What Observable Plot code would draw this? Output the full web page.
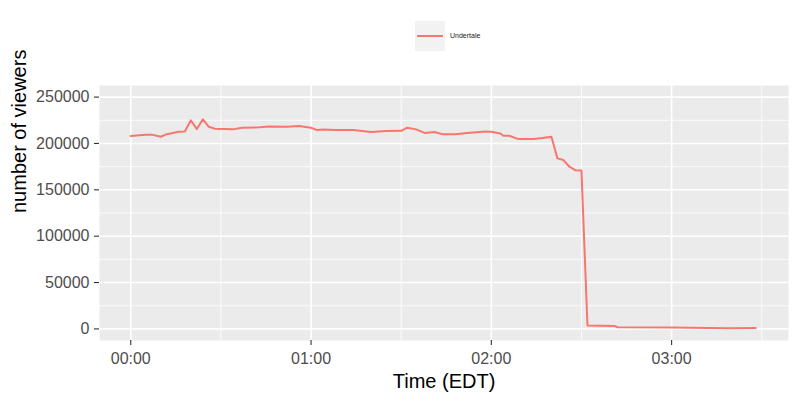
<!DOCTYPE html>
<html>
<head>
<meta charset="utf-8">
<script src="https://cdn.jsdelivr.net/npm/d3@7"></script>
<script src="https://cdn.jsdelivr.net/npm/@observablehq/plot@0.6"></script>
<style>
  html, body { margin: 0; padding: 0; background: #fff; overflow: hidden; }
  #legend { position: relative; width: 800px; height: 72px; font-family: "Liberation Sans", Arial, sans-serif; }
  #legend .key { position: absolute; left: 415px; top: 21px; width: 30px; height: 30px; background: #F2F2F2; }
  #legend .key i { position: absolute; left: 2px; top: 14px; width: 26px; height: 2px; background: #F8766D; }
  #legend .lab { position: absolute; left: 450px; top: 31px; font-size: 7px; line-height: 10px; color: #1a1a1a; }
  #chart svg { display: block; overflow: visible; }
</style>
</head>
<body>
<div id="legend"><div class="key"><i></i></div><div class="lab" id="seriesName"></div></div>
<div id="chart"></div>
<script>
// Series name
const seriesName = "Undertale";
// Minutes after 00:00 EDT
const minutes = [0,5,7,10,12,16,18,20,22,24,26,28,34,37,43,46,52,56,60,62,64,68,74,80,85,90,92,95,98,101,104,108,112,118,120,123,124,126,129,134,137,140,142,144,146,148,150,152,161,162,180,199,208];
// Number of viewers
const viewers = [208000,209500,209500,207200,210000,212600,213000,225000,215500,226000,218000,215800,215200,217000,217400,218400,218000,218700,216900,214400,215000,214400,214400,212300,213400,213600,217000,215200,211200,212300,209800,209800,211200,212900,212600,210800,208300,208300,204700,204700,205800,207200,183900,182100,174900,171000,170900,3600,3200,1800,1400,750,1000];
// Axis ticks
const xTickMinutes = [0, 60, 120, 180];
const xTickLabels = ["00:00", "01:00", "02:00", "03:00"];
const xMinorMinutes = [30, 90, 150, 210];
const yTicks = [0, 50000, 100000, 150000, 200000, 250000];
const yMinor = [25000, 75000, 125000, 175000, 225000];
const xTitle = "Time (EDT)";
const yTitle = "number of viewers";

document.getElementById("seriesName").textContent = seriesName;

const t0 = Date.UTC(2015, 9, 31, 0, 0);
const toDate = m => new Date(t0 + m * 60000);
const data = minutes.map((m, i) => ({time: toDate(m), viewers: viewers[i]}));
const labelOf = new Map(xTickMinutes.map((m, i) => [+toDate(m), xTickLabels[i]]));

const color = "#F8766D";
const chart = Plot.plot({
  width: 800,
  height: 330,
  marginTop: 13,
  marginBottom: 62,
  marginLeft: 99,
  marginRight: 12,
  style: {fontFamily: "Liberation Sans, Arial, sans-serif", fontSize: "16px", background: "#fff", overflow: "visible"},
  x: {type: "utc", domain: [toDate(-10.4), toDate(218.9)]},
  y: {domain: [-12500, 262500]},
  marks: [
    Plot.frame({fill: "#EBEBEB", stroke: null}),
    Plot.ruleY(yMinor, {stroke: "#fff", strokeWidth: 0.8}),
    Plot.ruleX(xMinorMinutes.map(toDate), {stroke: "#fff", strokeWidth: 0.8}),
    Plot.ruleY(yTicks, {stroke: "#fff", strokeWidth: 1.6}),
    Plot.ruleX(xTickMinutes.map(toDate), {stroke: "#fff", strokeWidth: 1.6}),
    Plot.line(data, {x: "time", y: "viewers", stroke: color, strokeWidth: 2, strokeLinejoin: "round"}),
    Plot.axisY({ticks: yTicks, tickFormat: d => String(d), tickSize: 5, tickPadding: 5, stroke: "#333333", fill: "#4D4D4D", strokeWidth: 1.1, label: null, fontSize: 16}),
    Plot.axisX({ticks: xTickMinutes.map(toDate), tickFormat: d => labelOf.get(+d), tickSize: 5, tickPadding: 7, stroke: "#333333", fill: "#4D4D4D", strokeWidth: 1.1, label: null, fontSize: 16}),
    Plot.text([xTitle], {frameAnchor: "bottom", dy: 41, fontSize: 20, fill: "#000", lineAnchor: "middle"}),
    Plot.text([yTitle], {frameAnchor: "left", dx: -80, rotate: -90, fontSize: 20, fill: "#000", lineAnchor: "middle"})
  ]
});
document.getElementById("chart").appendChild(chart);
</script>
</body>
</html>
